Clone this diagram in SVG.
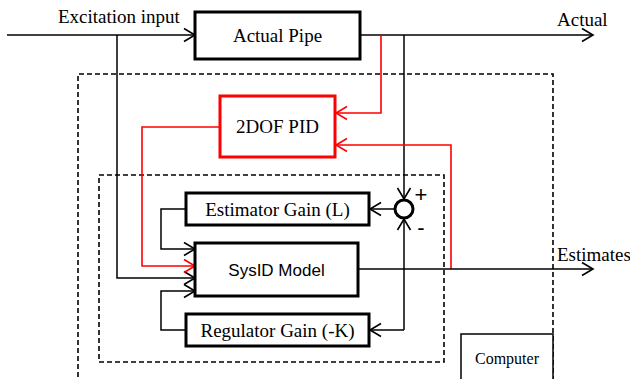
<svg xmlns="http://www.w3.org/2000/svg" width="630" height="379" viewBox="0 0 630 379">
<style>
.box{fill:#fff;stroke:#000;stroke-width:3}
.rbox{fill:#fff;stroke:#f00;stroke-width:3}
.thin{fill:#fff;stroke:#000;stroke-width:1.5}
.dash{fill:none;stroke:#000;stroke-width:1.6;stroke-dasharray:5,3}
.w{fill:none;stroke:#000;stroke-width:1.5}
.r{fill:none;stroke:#f00;stroke-width:1.6}
.t{font-family:"Liberation Serif","Times New Roman",serif;font-size:19px;fill:#000}
.s{font-family:"Liberation Sans",Arial,sans-serif;font-size:17px;fill:#000}
.sign{font-family:"Liberation Sans",Arial,sans-serif;font-size:22px;fill:#000}
</style>
<defs>
<marker id="ak" markerUnits="userSpaceOnUse" markerWidth="14" markerHeight="16" refX="12" refY="8" orient="auto">
<path d="M1,1.5 L12,8 L1,14.5" fill="none" stroke="#000" stroke-width="1.6"/>
</marker>
<marker id="ar" markerUnits="userSpaceOnUse" markerWidth="14" markerHeight="16" refX="12" refY="8" orient="auto">
<path d="M1,1.5 L12,8 L1,14.5" fill="none" stroke="#f00" stroke-width="1.6"/>
</marker>
</defs>
<rect width="630" height="379" fill="#fff"/>
<g id="computer-boundary">
<path class="dash" d="M78,385 V74 H553 V385"/>
</g>
<g id="estimator-boundary">
<rect class="dash" x="99" y="175" width="345" height="187"/>
</g>
<g id="connectors">
<path class="w" d="M7,35 H195" marker-end="url(#ak)"/>
<path class="w" d="M117,35 V278 H195" marker-end="url(#ak)"/>
<path class="w" d="M360,35 H593" marker-end="url(#ak)"/>
<path class="w" d="M404,35 V199" marker-end="url(#ak)"/>
<path class="r" d="M381,35 V113 H336" marker-end="url(#ar)"/>
<path class="r" d="M451,269 V145 H336" marker-end="url(#ar)"/>
<path class="r" d="M220,127 H142 V266 H195" marker-end="url(#ar)"/>
<path class="w" d="M395,209 H370" marker-end="url(#ak)"/>
<path class="w" d="M186,209 H161 V249 H195" marker-end="url(#ak)"/>
<path class="w" d="M404,330 V219" marker-end="url(#ak)"/>
<path class="w" d="M404,330 H370" marker-end="url(#ak)"/>
<path class="w" d="M186,330 H161 V291 H195" marker-end="url(#ak)"/>
<path class="w" d="M358,269 H593" marker-end="url(#ak)"/>
</g>
<g id="labels">
<text class="t" x="58" y="23">Excitation input</text>
<text class="t" x="557" y="26">Actual</text>
<text class="t" x="557" y="261">Estimates</text>
</g>
<g id="actual-pipe">
<rect class="box" x="195" y="12" width="165" height="47"/>
<text class="t" x="277.5" y="42" text-anchor="middle">Actual Pipe</text>
</g>
<g id="pid">
<rect class="rbox" x="220" y="96" width="115" height="61"/>
<text class="t" x="277.5" y="133" text-anchor="middle">2DOF PID</text>
</g>
<g id="sum">
<circle cx="404" cy="209" r="9" fill="#fff" stroke="#000" stroke-width="3"/>
<text class="sign" x="421" y="202" text-anchor="middle">+</text>
<text class="sign" x="421" y="235" text-anchor="middle">-</text>
</g>
<g id="estimator-gain">
<rect class="box" x="186" y="193" width="183" height="32"/>
<text class="t" x="277.5" y="216" text-anchor="middle">Estimator Gain (L)</text>
</g>
<g id="sysid-model">
<rect class="box" x="195" y="243" width="163" height="53"/>
<text class="s" x="276.5" y="276" text-anchor="middle">SysID Model</text>
</g>
<g id="regulator-gain">
<rect class="box" x="186" y="314" width="183" height="32"/>
<text class="t" x="277.5" y="337" text-anchor="middle">Regulator Gain (-K)</text>
</g>
<g id="computer">
<rect class="thin" x="461" y="334" width="92" height="60"/>
<text class="t" x="507" y="364" text-anchor="middle" style="font-size:16px">Computer</text>
</g>
</svg>
